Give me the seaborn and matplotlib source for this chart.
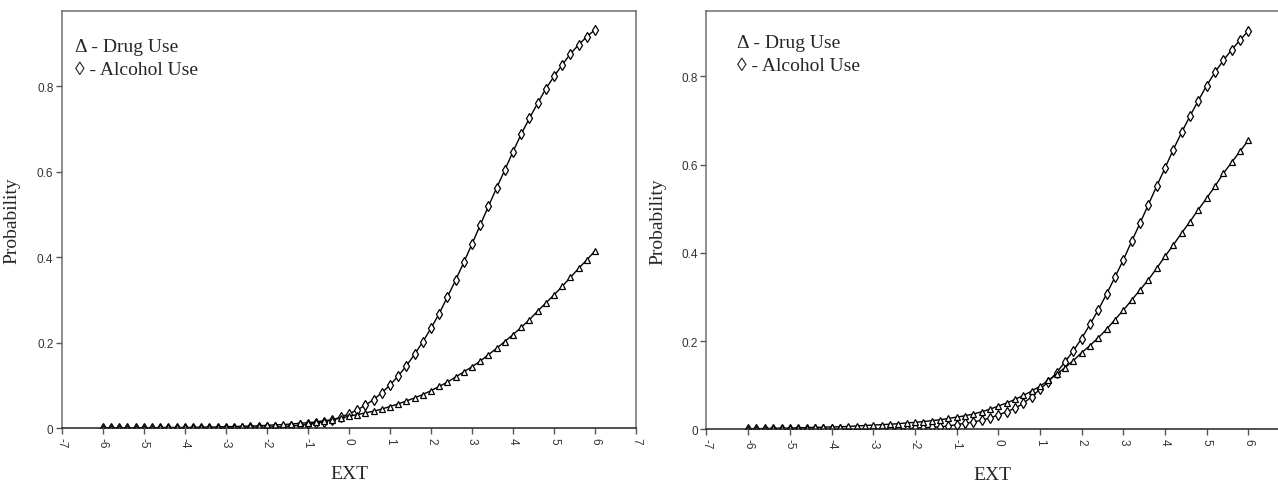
import matplotlib
matplotlib.use('Agg')
import matplotlib.pyplot as plt
import seaborn as sns
import pandas as pd
import numpy as np

sns.set_style('white')
plt.rcParams['font.family'] = ['Liberation Serif', 'DejaVu Serif']

# EXT grid: -6 .. 6 in steps of 0.2 (61 points per curve)
ext = np.round(np.arange(-6, 6.0001, 0.2), 1)

# left panel
drug_left = [0.001, 0.001, 0.001, 0.001, 0.001, 0.001, 0.001, 0.002, 0.002, 0.002,
             0.002, 0.002, 0.003, 0.003, 0.003, 0.004, 0.004, 0.005, 0.005, 0.006,
             0.007, 0.008, 0.009, 0.010, 0.012, 0.013, 0.015, 0.018, 0.020, 0.024,
             0.028, 0.032, 0.036, 0.040, 0.045, 0.051, 0.057, 0.064, 0.071, 0.079,
             0.088, 0.098, 0.108, 0.120, 0.132, 0.144, 0.157, 0.172, 0.187, 0.203,
             0.219, 0.236, 0.254, 0.274, 0.293, 0.312, 0.332, 0.353, 0.374, 0.394,
             0.415]
alcohol_left = [0.000, 0.000, 0.000, 0.000, 0.000, 0.000, 0.000, 0.000, 0.000, 0.000,
                0.000, 0.000, 0.000, 0.001, 0.001, 0.001, 0.001, 0.001, 0.002, 0.002,
                0.003, 0.003, 0.004, 0.006, 0.007, 0.009, 0.012, 0.015, 0.020, 0.026,
                0.034, 0.043, 0.054, 0.067, 0.083, 0.101, 0.122, 0.146, 0.173, 0.202,
                0.234, 0.268, 0.307, 0.346, 0.388, 0.431, 0.475, 0.519, 0.562, 0.604,
                0.647, 0.688, 0.725, 0.760, 0.794, 0.823, 0.850, 0.876, 0.897, 0.916,
                0.932]

# right panel
drug_right = [0.002, 0.002, 0.002, 0.003, 0.003, 0.003, 0.004, 0.004, 0.005, 0.005,
              0.006, 0.006, 0.007, 0.008, 0.009, 0.010, 0.011, 0.012, 0.013, 0.015,
              0.016, 0.018, 0.020, 0.022, 0.025, 0.028, 0.031, 0.035, 0.040, 0.046,
              0.053, 0.060, 0.068, 0.077, 0.087, 0.098, 0.111, 0.125, 0.140, 0.156,
              0.174, 0.190, 0.208, 0.227, 0.249, 0.270, 0.293, 0.316, 0.339, 0.365,
              0.392, 0.418, 0.445, 0.471, 0.498, 0.524, 0.551, 0.580, 0.605, 0.630,
              0.655]
alcohol_right = [0.000, 0.000, 0.000, 0.000, 0.000, 0.000, 0.000, 0.000, 0.000, 0.000,
                 0.000, 0.000, 0.000, 0.000, 0.001, 0.001, 0.001, 0.001, 0.002, 0.002,
                 0.003, 0.004, 0.005, 0.006, 0.008, 0.011, 0.014, 0.017, 0.021, 0.026,
                 0.033, 0.040, 0.048, 0.059, 0.074, 0.091, 0.108, 0.129, 0.153, 0.178,
                 0.206, 0.238, 0.271, 0.307, 0.345, 0.384, 0.426, 0.467, 0.509, 0.551,
                 0.592, 0.634, 0.673, 0.710, 0.745, 0.779, 0.809, 0.836, 0.860, 0.882,
                 0.903]

x_ticks = list(range(-7, 8))
y_ticks = [0, 0.2, 0.4, 0.6, 0.8]
y_tick_labels = ['0', '0.2', '0.4', '0.6', '0.8']

panels = [
    # axes rect, ylim top, data, ylabel x, xlabel x, legend pos, last x label shown
    ([0.0483, 0.1148, 0.4494, 0.8596], 0.975, drug_left, alcohol_left, -0.072, 0.5, (0.023, 0.915), True),
    ([0.5528, 0.1124, 0.4566, 0.8620], 0.947, drug_right, alcohol_right, -0.068, 0.49, (0.053, 0.925), False),
]

fig = plt.figure(figsize=(12.78, 4.85), dpi=100)
tick_font = ['Liberation Sans Narrow', 'Liberation Sans']

for rect, ytop, drug, alcohol, ylab_x, xlab_x, leg, show_last in panels:
    ax = fig.add_axes(rect)
    df = pd.DataFrame({'EXT': np.concatenate([ext, ext]),
                       'Probability': drug + alcohol,
                       'item': ['Drug Use'] * len(ext) + ['Alcohol Use'] * len(ext)})
    sns.lineplot(data=df[df['item'] == 'Alcohol Use'], x='EXT', y='Probability', ax=ax,
                 color='black', linewidth=1.0, marker='d', markersize=4.8,
                 markerfacecolor='white', markeredgecolor='black', markeredgewidth=0.9)
    sns.lineplot(data=df[df['item'] == 'Drug Use'], x='EXT', y='Probability', ax=ax,
                 color='black', linewidth=1.0, marker='^', markersize=4.5,
                 markerfacecolor='white', markeredgecolor='black', markeredgewidth=0.9)

    ax.set_xlim(-7, 7)
    ax.set_ylim(0, ytop)
    ax.set_xticks(x_ticks)
    x_labels = [str(t) for t in x_ticks]
    if not show_last:
        x_labels[-1] = ''
    ax.set_xticklabels(x_labels, rotation=270, family=tick_font, fontsize=8.5, color='#333333')
    ax.set_yticks(y_ticks)
    ax.set_yticklabels(y_tick_labels, family=tick_font, fontsize=8.5, color='#333333')
    ax.tick_params(axis='both', direction='out', length=4, width=1, color='#555555', pad=2,
                   bottom=True, left=True)

    for side, sp in ax.spines.items():
        sp.set_color('#6f6f6f')
        sp.set_linewidth(1.1)
    ax.spines['bottom'].set_color('#222222')

    ax.set_xlabel('EXT', fontsize=14)
    ax.set_ylabel('Probability', fontsize=14)
    ax.xaxis.set_label_coords(xlab_x, -0.088)
    ax.yaxis.set_label_coords(ylab_x, 0.5)

    ax.text(leg[0], leg[1], '\u0394 - Drug Use', transform=ax.transAxes, fontsize=14,
            va='center', ha='left')
    ax.text(leg[0], leg[1] - 0.054, '\u25ca - Alcohol Use', transform=ax.transAxes, fontsize=14,
            va='center', ha='left')

fig.savefig('out.png', dpi=100)
